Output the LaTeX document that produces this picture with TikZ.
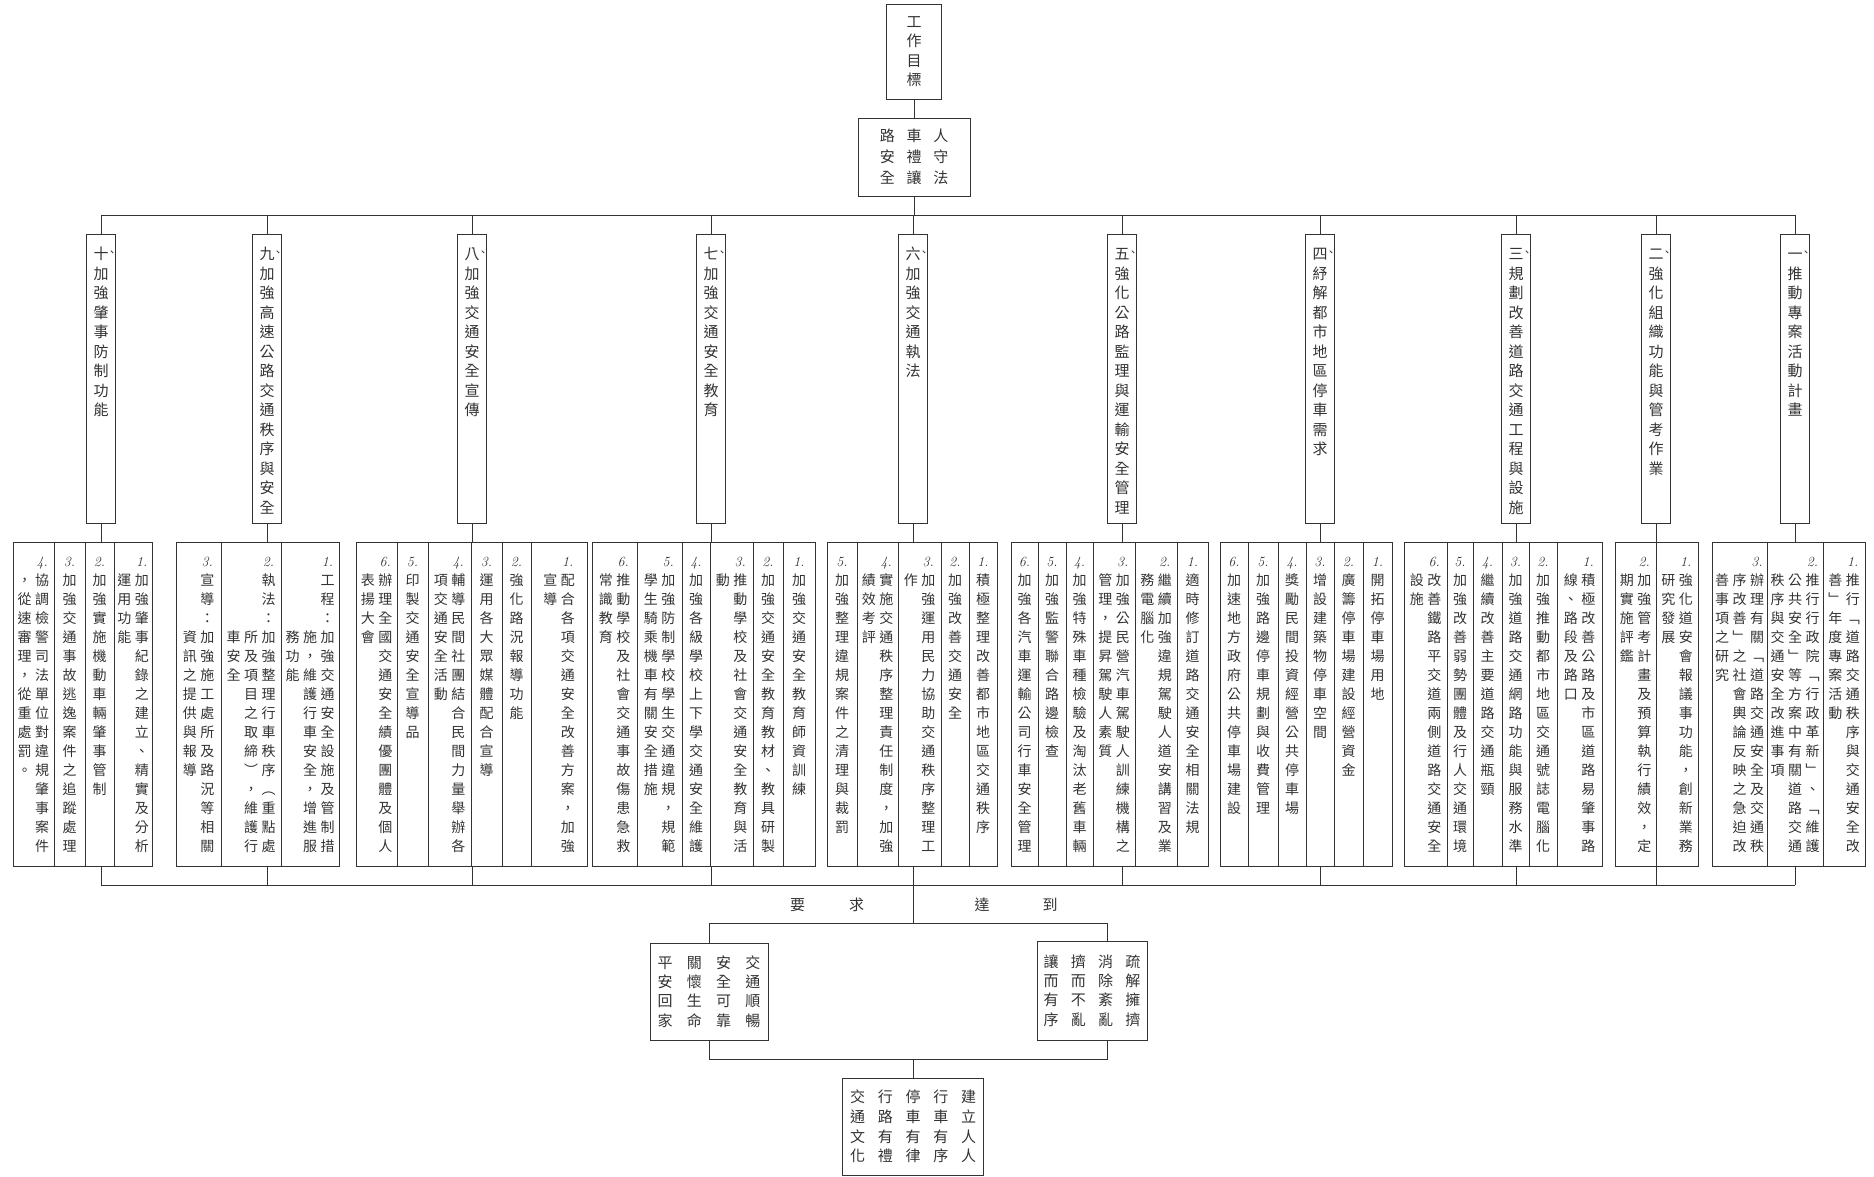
\documentclass[tikz,border=0pt]{standalone}
\usepackage{fontspec}
\newfontfamily\cjk{Noto Sans CJK TC}
% one vertical column of characters, optional number of blank rows on top
\ExplSyntaxOn
\NewDocumentCommand\vcol{O{0}m}
  {
    \vtop
      {
        \lineskiplimit=-\maxdimen
        \prg_replicate:nn {#1} { \hbox:n { } }
        \tl_map_inline:nn {#2} { \hbox_to_wd:nn { 1.25em } { \hss ##1 \hss } }
      }
  }
\ExplSyntaxOff
\newcommand\no[1]{{\normalfont\itshape #1}}
\newcommand\dun{\rlap{\kern-2pt\raisebox{3pt}{\fontsize{11}{11}\selectfont 、}}}

\begin{document}
\begin{tikzpicture}[
  x=1pt, y=-1pt, line width=1pt, color=black!80,
  goal/.style={draw,inner sep=0pt,font=\cjk\fontsize{15}{19.5}\selectfont},
  head/.style={draw,inner sep=0pt,anchor=north,minimum width=29pt,text height=25pt,text depth=264pt,font=\cjk\fontsize{15}{19.5}\selectfont},
  dbox/.style={draw,inner sep=0pt,anchor=north west,minimum height=324pt},
  item/.style={inner sep=0pt,anchor=base,font=\cjk\fontsize{14}{19}\selectfont},
  lbl/.style={inner sep=0pt,font=\cjk\fontsize{15}{18}\selectfont}
]
  \useasboundingbox (0,0) rectangle (1874,1176);

  % goal and motto
  \node[goal,minimum width=55pt,minimum height=95pt] (t0) at (914,51.5) {\vcol{工作目標}};
  \node[goal,minimum width=112pt,minimum height=78pt,font=\cjk\fontsize{15}{21}\selectfont] (t1) at (914,157)
    {\vcol{路安全}\hspace{8pt}\vcol{車禮讓}\hspace{8pt}\vcol{人守法}};

  % ten work items
  \node[head] (h10) at (101,234) {\vcol{{十\dun}加強肇事防制功能}};
  \node[head] (h9) at (267,234) {\vcol{{九\dun}加強高速公路交通秩序與安全}};
  \node[head] (h8) at (472,234) {\vcol{{八\dun}加強交通安全宣傳}};
  \node[head] (h7) at (711,234) {\vcol{{七\dun}加強交通安全教育}};
  \node[head] (h6) at (913,234) {\vcol{{六\dun}加強交通執法}};
  \node[head] (h5) at (1122,234) {\vcol{{五\dun}強化公路監理與運輸安全管理}};
  \node[head] (h4) at (1320,234) {\vcol{{四\dun}紓解都市地區停車需求}};
  \node[head] (h3) at (1516,234) {\vcol{{三\dun}規劃改善道路交通工程與設施}};
  \node[head] (h2) at (1656,234) {\vcol{{二\dun}強化組織功能與管考作業}};
  \node[head] (h1) at (1795,234) {\vcol{{一\dun}推動專案活動計畫}};

  % measure boxes
  \node[dbox,minimum width=139pt] (d10) at (13,542) {};
  \node[dbox,minimum width=163pt] (d9) at (176,542) {};
  \node[dbox,minimum width=231pt] (d8) at (356,542) {};
  \node[dbox,minimum width=223pt] (d7) at (592,542) {};
  \node[dbox,minimum width=170pt] (d6) at (827,542) {};
  \node[dbox,minimum width=197pt] (d5) at (1011,542) {};
  \node[dbox,minimum width=172pt] (d4) at (1220,542) {};
  \node[dbox,minimum width=198pt] (d3) at (1404,542) {};
  \node[dbox,minimum width=83pt] (d2) at (1615,542) {};
  \node[dbox,minimum width=153pt] (d1) at (1712,542) {};
  \foreach \x in {54,85,114,221,281,397,428,471,502,531,637,682,710,753,783,857,898,941,969,
                  1038,1066,1093,1135,1177,1248,1278,1306,1334,1363,1447,1473,1502,1529,1557,1656,1767,1823}
    \draw (\x,542) -- (\x,866);

  % 十
  \node[item] (i10d) at (33.5,566.3) {\vcol[1]{，從速審理，從重處罰。}\vcol{{\no{4.}}協調檢警司法單位對違規肇事案件}};
  \node[item] (i10c) at (69.5,566.3) {\vcol{{\no{3.}}加強交通事故逃逸案件之追蹤處理}};
  \node[item] (i10b) at (99.5,566.3) {\vcol{{\no{2.}}加強實施機動車輛肇事管制}};
  \node[item] (i10a) at (133,566.3) {\vcol[1]{運用功能}\vcol{{\no{1.}}加強肇事紀錄之建立、精實及分析}};
  % 九
  \node[item] (i9c) at (198.5,566.3) {\vcol[4]{資訊之提供與報導}\vcol{{\no{3.}}宣導：加強施工處所及路況等相關}};
  \node[item] (i9b) at (251,566.3) {\vcol[4]{車安全}\vcol[4]{所及項目之取締︶，維護行}\vcol{{\no{2.}}執法：加強整理行車秩序︵重點處}};
  \node[item] (i9a) at (310,566.3) {\vcol[4]{務功能}\vcol[4]{施，維護行車安全，增進服}\vcol{{\no{1.}}工程：加強交通安全設施及管制措}};
  % 八
  \node[item] (i8f) at (376.5,566.3) {\vcol[1]{表揚大會}\vcol{{\no{6.}}辦理全國交通安全績優團體及個人}};
  \node[item] (i8e) at (412.5,566.3) {\vcol{{\no{5.}}印製交通安全宣導品}};
  \node[item] (i8d) at (449.5,566.3) {\vcol[1]{項交通安全活動}\vcol{{\no{4.}}輔導民間社團結合民間力量舉辦各}};
  \node[item] (i8c) at (486.5,566.3) {\vcol{{\no{3.}}運用各大眾媒體配合宣導}};
  \node[item] (i8b) at (516.5,566.3) {\vcol{{\no{2.}}強化路況報導功能}};
  \node[item] (i8a) at (559,566.3) {\vcol[1]{宣導}\vcol{{\no{1.}}配合各項交通安全改善方案，加強}};
  % 七
  \node[item] (i7f) at (614.5,566.3) {\vcol[1]{常識教育}\vcol{{\no{6.}}推動學校及社會交通事故傷患急救}};
  \node[item] (i7e) at (659.5,566.3) {\vcol[1]{學生騎乘機車有關安全措施}\vcol{{\no{5.}}加強防制學校學生交通違規，規範}};
  \node[item] (i7d) at (696,566.3) {\vcol{{\no{4.}}加強各級學校上下學交通安全維護}};
  \node[item] (i7c) at (731.5,566.3) {\vcol[1]{動}\vcol{{\no{3.}}推動學校及社會交通安全教育與活}};
  \node[item] (i7b) at (768,566.3) {\vcol{{\no{2.}}加強交通安全教育教材、教具研製}};
  \node[item] (i7a) at (799,566.3) {\vcol{{\no{1.}}加強交通安全教育師資訓練}};
  % 六
  \node[item] (i6e) at (842,566.3) {\vcol{{\no{5.}}加強整理違規案件之清理與裁罰}};
  \node[item] (i6d) at (877.5,566.3) {\vcol[1]{績效考評}\vcol{{\no{4.}}實施交通秩序整理責任制度，加強}};
  \node[item] (i6c) at (919.5,566.3) {\vcol[1]{作}\vcol{{\no{3.}}加強運用民力協助交通秩序整理工}};
  \node[item] (i6b) at (955,566.3) {\vcol{{\no{2.}}加強改善交通安全}};
  \node[item] (i6a) at (983,566.3) {\vcol{{\no{1.}}積極整理改善都市地區交通秩序}};
  % 五
  \node[item] (i5f) at (1024.5,566.3) {\vcol{{\no{6.}}加強各汽車運輸公司行車安全管理}};
  \node[item] (i5e) at (1052,566.3) {\vcol{{\no{5.}}加強監警聯合路邊檢查}};
  \node[item] (i5d) at (1079.5,566.3) {\vcol{{\no{4.}}加強特殊車種檢驗及淘汰老舊車輛}};
  \node[item] (i5c) at (1114,566.3) {\vcol[1]{管理，提昇駕駛人素質}\vcol{{\no{3.}}加強公民營汽車駕駛人訓練機構之}};
  \node[item] (i5b) at (1156,566.3) {\vcol[1]{務電腦化}\vcol{{\no{2.}}繼續加強違規駕駛人道安講習及業}};
  \node[item] (i5a) at (1192.5,566.3) {\vcol{{\no{1.}}適時修訂道路交通安全相關法規}};
  % 四
  \node[item] (i4f) at (1234,566.3) {\vcol{{\no{6.}}加速地方政府公共停車場建設}};
  \node[item] (i4e) at (1263,566.3) {\vcol{{\no{5.}}加強路邊停車規劃與收費管理}};
  \node[item] (i4d) at (1292,566.3) {\vcol{{\no{4.}}獎勵民間投資經營公共停車場}};
  \node[item] (i4c) at (1320,566.3) {\vcol{{\no{3.}}增設建築物停車空間}};
  \node[item] (i4b) at (1348.5,566.3) {\vcol{{\no{2.}}廣籌停車場建設經營資金}};
  \node[item] (i4a) at (1377.5,566.3) {\vcol{{\no{1.}}開拓停車場用地}};
  % 三
  \node[item] (i3f) at (1425.5,566.3) {\vcol[1]{設施}\vcol{{\no{6.}}改善鐵路平交道兩側道路交通安全}};
  \node[item] (i3e) at (1460,566.3) {\vcol{{\no{5.}}加強改善弱勢團體及行人交通環境}};
  \node[item] (i3d) at (1487.5,566.3) {\vcol{{\no{4.}}繼續改善主要道路交通瓶頸}};
  \node[item] (i3c) at (1515.5,566.3) {\vcol{{\no{3.}}加強道路交通網路功能與服務水準}};
  \node[item] (i3b) at (1543,566.3) {\vcol{{\no{2.}}加強推動都市地區交通號誌電腦化}};
  \node[item] (i3a) at (1579.5,566.3) {\vcol[1]{線、路段及路口}\vcol{{\no{1.}}積極改善公路及市區道路易肇事路}};
  % 二
  \node[item] (i2b) at (1635.5,566.3) {\vcol[1]{期實施評鑑}\vcol{{\no{2.}}加強管考計畫及預算執行績效，定}};
  \node[item] (i2a) at (1677,566.3) {\vcol[1]{研究發展}\vcol{{\no{1.}}強化道安會報議事功能，創新業務}};
  % 一
  \node[item] (i1c) at (1739.5,566.3) {\vcol[1]{善事項之研究}\vcol[1]{序改善﹂之社會輿論反映之急迫改}\vcol{{\no{3.}}辦理有關﹁道路交通安全及交通秩}};
  \node[item] (i1b) at (1795,566.3) {\vcol[1]{秩序與交通安全改進事項}\vcol[1]{公共安全﹂等方案中有關道路交通}\vcol{{\no{2.}}推行行政院﹁行政革新﹂、﹁維護}};
  \node[item] (i1a) at (1844,566.3) {\vcol[1]{善﹂年度專案活動}\vcol{{\no{1.}}推行﹁道路交通秩序與交通安全改}};

  % results
  \node[lbl] (ask) at (827,905) {要\hspace{44pt}求};
  \node[lbl] (reach) at (1016,905) {達\hspace{53pt}到};
  \node[goal,minimum width=118pt,minimum height=97pt,font=\cjk\fontsize{15}{19.3}\selectfont] (r1) at (709,991.5)
    {\vcol{平安回家}\hspace{10.5pt}\vcol{關懷生命}\hspace{10.5pt}\vcol{安全可靠}\hspace{10.5pt}\vcol{交通順暢}};
  \node[goal,minimum width=110pt,minimum height=99pt,font=\cjk\fontsize{15}{19.3}\selectfont] (r2) at (1092,990.5)
    {\vcol{讓而有序}\hspace{8.5pt}\vcol{擠而不亂}\hspace{8.5pt}\vcol{消除紊亂}\hspace{8.5pt}\vcol{疏解擁擠}};
  \node[goal,minimum width=141pt,minimum height=97pt,font=\cjk\fontsize{15}{19.7}\selectfont] (r3) at (913,1126.5)
    {\vcol{交通文化}\hspace{9pt}\vcol{行路有禮}\hspace{9pt}\vcol{停車有律}\hspace{9pt}\vcol{行車有序}\hspace{9pt}\vcol{建立人人}};

  % connectors
  \coordinate (topbus) at (0,215);
  \coordinate (lowbus) at (0,885);
  \coordinate (midbar) at (0,923);
  \coordinate (botbar) at (0,1059);
  \draw (t0) -- (t1);
  \draw (t1.south) -- (t1.south |- topbus);
  \draw (h10.north |- topbus) -- (h1.north |- topbus);
  \foreach \n in {1,...,10} {
    \draw (h\n.north) -- (h\n.north |- topbus);
    \draw (h\n.south) -- (h\n.south |- d\n.north);
    \draw (h\n.south |- d\n.south) -- (h\n.south |- lowbus);
  }
  \draw (h10.south |- lowbus) -- (h1.south |- lowbus);
  \draw (h6.south |- lowbus) -- (h6.south |- midbar);
  \draw (r1.north) -- (r1.north |- midbar) -- ([xshift=15pt]r2.north |- midbar) -- ([xshift=15pt]r2.north);
  \draw (r1.south) -- (r1.south |- botbar) -- ([xshift=15pt]r2.south |- botbar) -- ([xshift=15pt]r2.south);
  \draw (r3.north) -- (r3.north |- botbar);
\end{tikzpicture}
\end{document}
